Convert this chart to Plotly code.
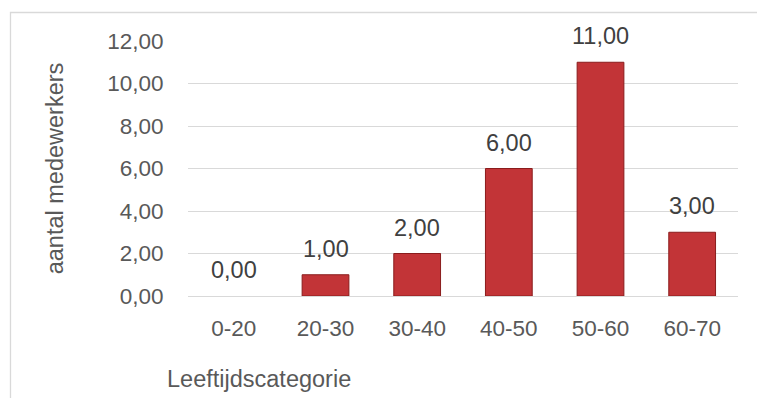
import plotly.graph_objects as go

categories = ["0-20", "20-30", "30-40", "40-50", "50-60", "60-70"]
values = [0, 1, 2, 6, 11, 3]
y_ticks = [0, 2, 4, 6, 8, 10, 12]
y_tick_labels = ["0,00", "2,00", "4,00", "6,00", "8,00", "10,00", "12,00"]
value_labels = ["0,00", "1,00", "2,00", "6,00", "11,00", "3,00"]

FONT = "Arial, Liberation Sans, sans-serif"
W, H = 757, 398
ml, mr, mt, mb = 188, 19, 41, 102

fig = go.Figure()
fig.add_trace(go.Bar(
    x=categories, y=values,
    marker=dict(color="#c23437",
                line=dict(color="#8a1c1c", width=[0 if v == 0 else 1 for v in values])),
    width=0.51,
    hoverinfo="skip",
))

for c, v, t in zip(categories, values, value_labels):
    fig.add_annotation(x=c, y=v, text=t, showarrow=False, yanchor="bottom",
                       yshift=11, font=dict(family=FONT, size=23.5, color="#404040"))

pw = W - ml - mr
ph = H - mt - mb
# outer chart border (partly cropped at right/bottom)
fig.add_shape(type="rect", xref="paper", yref="paper",
              x0=(10.5 - ml) / pw, x1=(W + 20 - ml) / pw,
              y0=-(H + 20 - (H - mb)) / ph, y1=((H - mb) - 12.5) / ph,
              line=dict(color="#d9d9d9", width=1.3), fillcolor="rgba(0,0,0,0)", layer="below")

fig.add_annotation(xref="paper", yref="paper", x=(165 - ml) / pw, y=((H - mb) - 379) / ph,
                   xanchor="left", yanchor="middle", showarrow=False,
                   text="Leeftijdscategorie", font=dict(family=FONT, size=23.5, color="#595959"))

fig.update_layout(
    width=W, height=H,
    margin=dict(l=ml, r=mr, t=mt, b=mb),
    paper_bgcolor="white", plot_bgcolor="white",
    showlegend=False,
    font=dict(family=FONT, size=22.5, color="#595959"),
    xaxis=dict(
        showgrid=False, zeroline=False, showline=True, linecolor="#d9d9d9", linewidth=1.3,
        ticks="outside", ticklen=12, tickcolor="rgba(0,0,0,0)",
        tickfont=dict(family=FONT, size=22.5, color="#595959"),
    ),
    yaxis=dict(
        range=[0, 12], tickvals=y_ticks, ticktext=y_tick_labels,
        showgrid=True, gridcolor="#d9d9d9", gridwidth=1.3, zeroline=False,
        showline=False, ticks="outside", ticklen=19, tickcolor="rgba(0,0,0,0)",
        tickfont=dict(family=FONT, size=22.5, color="#595959"),
        title=dict(text="aantal medewerkers", font=dict(family=FONT, size=23.5, color="#595959"),
                   standoff=36),
    ),
)

fig.write_html("out.html")
